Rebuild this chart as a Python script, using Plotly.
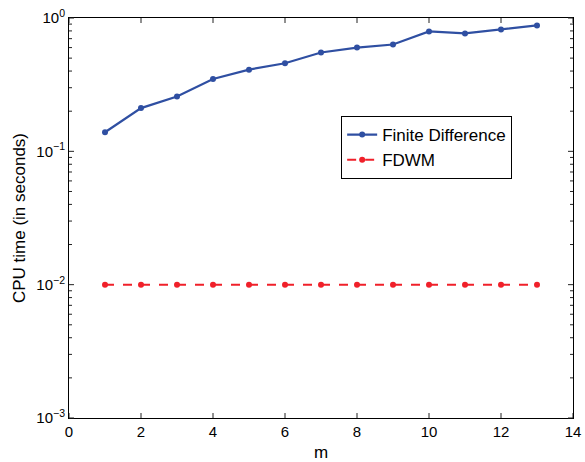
import math
import plotly.graph_objects as go

m = [1, 2, 3, 4, 5, 6, 7, 8, 9, 10, 11, 12, 13]
finite_difference = [0.139, 0.211, 0.258, 0.349, 0.41, 0.458, 0.551, 0.60, 0.633, 0.793, 0.766, 0.82, 0.88]
fdwm = [0.01] * 13

y_tickvals = [1e-3, 1e-2, 1e-1, 1e0]
y_ticktext = ["10<sup>−3</sup>", "10<sup>−2</sup>", "10<sup>−1</sup>", "10<sup>0</sup>"]
y_minorvals = [k * 10.0 ** e for e in (-3, -2, -1) for k in range(2, 10)]
x_tickvals = [0, 2, 4, 6, 8, 10, 12, 14]

W, H = 585, 462
L, R, T, B = 69, 12, 18, 44
PW, PH = W - L - R, H - T - B
YLO, YHI = -3, 0
XLO, XHI = 0, 14

fig = go.Figure()
fig.add_trace(go.Scatter(
    x=m, y=finite_difference, mode="lines+markers", name="Finite Difference",
    line=dict(color="#2F4FA2", width=2.2), marker=dict(color="#2F4FA2", size=6)))
fig.add_trace(go.Scatter(
    x=m, y=fdwm, mode="lines+markers", name="FDWM",
    line=dict(color="#F0202A", width=2, dash="dash"), marker=dict(color="#F0202A", size=6)))

# axis tick marks (drawn as shapes, MATLAB style: inside, on all four sides)
shapes = []
tick_line = dict(color="#222222", width=1)
def yfrac(v):
    return (math.log10(v) - YLO) / (YHI - YLO)
for vals, length in ((y_tickvals, 5), (y_minorvals, 3)):
    lx = length / PW
    for v in vals:
        f = yfrac(v)
        shapes.append(dict(type="line", xref="x domain", yref="y domain",
                           x0=0, x1=lx, y0=f, y1=f, line=tick_line))
        shapes.append(dict(type="line", xref="x domain", yref="y domain",
                           x0=1, x1=1 - lx, y0=f, y1=f, line=tick_line))
ly = 5 / PH
for v in x_tickvals:
    shapes.append(dict(type="line", xref="x", yref="y domain",
                       x0=v, x1=v, y0=0, y1=ly, line=tick_line))
    shapes.append(dict(type="line", xref="x", yref="y domain",
                       x0=v, x1=v, y0=1, y1=1 - ly, line=tick_line))

font = dict(family="Liberation Sans, Arial, sans-serif", size=14, color="black")
fig.update_layout(
    width=W, height=H,
    margin=dict(l=L, r=R, t=T, b=B),
    paper_bgcolor="white", plot_bgcolor="white",
    font=font,
    showlegend=True,
    shapes=shapes,
    legend=dict(x=0.54, y=0.755, xanchor="left", yanchor="top",
                bordercolor="black", borderwidth=1, bgcolor="white",
                font=dict(size=17), tracegroupgap=0, itemwidth=30),
)
fig.update_xaxes(
    range=[XLO, XHI], tickvals=x_tickvals, showgrid=False, zeroline=False,
    showline=True, linecolor="black", linewidth=1, mirror=True,
    ticks="", automargin=False,
    title=dict(text="m", standoff=8), tickfont=dict(size=15))
fig.update_yaxes(
    type="log", range=[YLO, YHI], tickvals=y_tickvals, ticktext=y_ticktext,
    showgrid=False, zeroline=False,
    showline=True, linecolor="black", linewidth=1, mirror=True,
    ticks="", automargin=False,
    title=dict(text="CPU time (in seconds)", standoff=6), tickfont=dict(size=15))

fig.write_html("out.html")
